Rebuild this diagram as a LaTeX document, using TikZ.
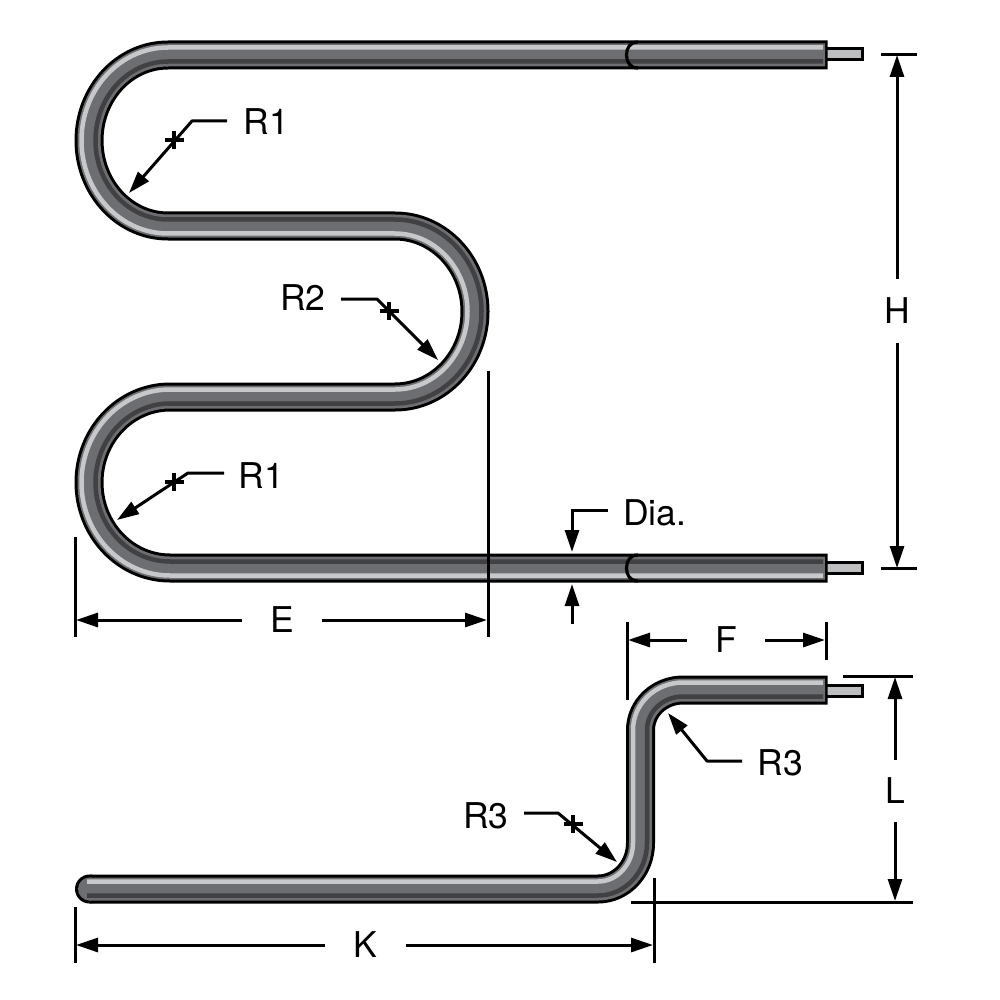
\documentclass[tikz,border=0pt]{standalone}
\usepackage{fontspec}
\setmainfont{TeX Gyre Heros}
\usetikzlibrary{arrows.meta}
\definecolor{tubebase}{HTML}{6D6E71}
\definecolor{tubelight}{HTML}{C7C8CA}
\definecolor{tubedark}{HTML}{414042}
\definecolor{leadfill}{HTML}{BCBEC0}
% #1 = sideways offset from the centre line, positive towards the outside of the first bend
% #2 = x of the free right-hand end
\newcommand{\tubeOnePath}[2]{(#2,-55+#1) -- (168,-55+#1)
  arc[start angle=90,end angle=270,x radius=79pt+#1pt,y radius=85.5pt+#1pt]
  -- (395,-226-#1)
  arc[start angle=90,end angle=-90,x radius=80pt-#1pt,y radius=85.5pt-#1pt]
  -- (170,-397+#1)
  arc[start angle=90,end angle=270,x radius=81pt+#1pt,y radius=85.5pt+#1pt]
  -- (#2,-568-#1)}
\newcommand{\tubeTwoPath}[3]{(#2,-690+#1) -- (683,-690+#1)
  arc[start angle=90,end angle=180,x radius=42.5pt+#1pt,y radius=40pt+#1pt]
  -- (640.5-#1,-843)
  arc[start angle=0,end angle=-90,x radius=42.5pt-#1pt,y radius=46pt-#1pt]
  -- (#3,-889+#1)}
\tikzset{
  x=1pt,y=1pt,
  tubeoutline/.style={draw=black,line width=29pt,line cap=butt,line join=round},
  tubecore/.style={draw=tubebase,line width=23pt,line cap=butt,line join=round},
  lightband/.style={draw=tubelight,line width=4.5pt},
  darkband/.style={draw=tubedark,line width=4.5pt},
  leadwire/.style={draw=black,fill=leadfill,line width=3pt},
  joint/.style={draw=black,line width=3.2pt},
  dim/.style={draw=black,line width=3pt,-{Triangle[length=22pt,width=14pt]},shorten >=0pt},
  extline/.style={draw=black,line width=3pt},
  crossmark/.style={draw=black,line width=3.2pt},
  lbl/.style={inner sep=0pt,outer sep=0pt,font=\fontsize{35.5}{38}\selectfont,text=black},
}
\begin{document}
\begin{tikzpicture}
\path[use as bounding box,fill=white] (0,0) rectangle (1000,-1000);

% ---- leads
\draw[leadwire] (824,-49) rectangle (862,-60);
\draw[leadwire] (824,-562) rectangle (862,-573);
\draw[leadwire] (824,-685) rectangle (862,-696);

% ---- upper tube
\draw[tubeoutline] \tubeOnePath{0}{827.5};
\draw[tubecore] \tubeOnePath{0}{825};
\draw[lightband] \tubeOnePath{7.5}{823};
\draw[darkband] \tubeOnePath{-6.5}{823};
\draw[joint] (638,-42) .. controls (630,-42) and (626.5,-48) .. (626.5,-55) .. controls (626.5,-62) and (630,-68) .. (638,-68);
\draw[joint] (638,-555) .. controls (630,-555) and (626.5,-561) .. (626.5,-568) .. controls (626.5,-575) and (630,-581) .. (638,-581);

% ---- lower tube
\fill[black] (89.5,-889) circle[radius=14.5pt];
\draw[tubeoutline] \tubeTwoPath{0}{827.5}{89.5};
\fill[tubebase] (89.5,-889) circle[radius=11.5pt];
\draw[tubecore] \tubeTwoPath{0}{825}{89};
\draw[lightband] \tubeTwoPath{7.5}{823}{87};
\draw[darkband] \tubeTwoPath{-6.5}{823}{87};

% ---- labels
\node[lbl,minimum height=64pt] (H) at (897,-311) {H};
\node[lbl,minimum width=80pt] (E) at (282,-620) {E};
\node[lbl,minimum width=78pt] (F) at (726,-640) {F};
\node[lbl,minimum height=62pt] (L) at (895,-791) {L};
\node[lbl,minimum width=81pt] (K) at (365,-945) {K};
\node[lbl,anchor=west] (Dia) at (623,-513) {Dia.};
\node[lbl] (R1a) at (266.5,-122) {R1};
\node[lbl] (R2) at (303,-298) {R2};
\node[lbl] (R1b) at (261.5,-476) {R1};
\node[lbl] (R3a) at (486,-816) {R3};
\node[lbl] (R3b) at (780.5,-763) {R3};

% ---- H
\coordinate (Htop) at (897,-55);
\coordinate (Hbot) at (897,-568);
\draw[extline] (881,-55) -- (917,-55);
\draw[extline] (881,-568) -- (917,-568);
\draw[dim] (H.north) -- (Htop);
\draw[dim] (H.south) -- (Hbot);

% ---- E
\coordinate (Eleft) at (76,-620);
\coordinate (Eright) at (487,-620);
\draw[extline] (75,-537) -- (75,-637);
\draw[extline] (488,-371) -- (488,-637);
\draw[dim] (E.west) -- (Eleft);
\draw[dim] (E.east) -- (Eright);

% ---- Dia.
\coordinate (DiaStart) at (608,-510);
\coordinate (DiaKnee) at (572,-510);
\coordinate (DiaTip) at (572,-552);
\coordinate (DiaLow) at (572,-624);
\coordinate (DiaLowTip) at (572,-584);
\draw[dim] (DiaStart) -- (DiaKnee) -- (DiaTip);
\draw[dim] (DiaLow) -- (DiaLowTip);

% ---- F
\coordinate (Fleft) at (628,-640);
\coordinate (Fright) at (825,-640);
\draw[extline] (627,-622) -- (627,-700);
\draw[extline] (826,-622) -- (826,-660);
\draw[dim] (F.west) -- (Fleft);
\draw[dim] (F.east) -- (Fright);

% ---- L
\coordinate (Ltop) at (895,-677);
\coordinate (Lbot) at (895,-901);
\draw[extline] (843,-676) -- (913,-676);
\draw[extline] (631,-902) -- (913,-902);
\draw[dim] (L.north) -- (Ltop);
\draw[dim] (L.south) -- (Lbot);

% ---- K
\coordinate (Kleft) at (76,-945);
\coordinate (Kright) at (653,-945);
\draw[extline] (75,-907) -- (75,-963);
\draw[extline] (654,-878) -- (654,-963);
\draw[dim] (K.west) -- (Kleft);
\draw[dim] (K.east) -- (Kright);

% ---- radius leaders
\coordinate (a1) at (227,-121); \coordinate (a2) at (192,-121); \coordinate (a3) at (129,-193);
\draw[dim,line join=round] (a1) -- (a2) -- (a3);
\draw[crossmark] (164.5,-140) -- (183.5,-140) (174,-131) -- (174,-149);

\coordinate (b1) at (341,-299); \coordinate (b2) at (377,-299); \coordinate (b3) at (438,-360);
\draw[dim,line join=round] (b1) -- (b2) -- (b3);
\draw[crossmark] (379.5,-311) -- (398.5,-311) (389,-302) -- (389,-320);

\coordinate (c1) at (224,-473); \coordinate (c2) at (188,-473); \coordinate (c3) at (117,-520);
\draw[dim,line join=round] (c1) -- (c2) -- (c3);
\draw[crossmark] (164.5,-482) -- (183.5,-482) (174,-473) -- (174,-491);

\coordinate (d1) at (524,-813); \coordinate (d2) at (558,-813); \coordinate (d3) at (617,-862);
\draw[dim,line join=round] (d1) -- (d2) -- (d3);
\draw[crossmark] (563.5,-824) -- (582.5,-824) (573,-815) -- (573,-833);

\coordinate (e1) at (742,-761); \coordinate (e2) at (707,-761); \coordinate (e3) at (668,-713);
\draw[dim,line join=round] (e1) -- (e2) -- (e3);
\end{tikzpicture}
\end{document}
